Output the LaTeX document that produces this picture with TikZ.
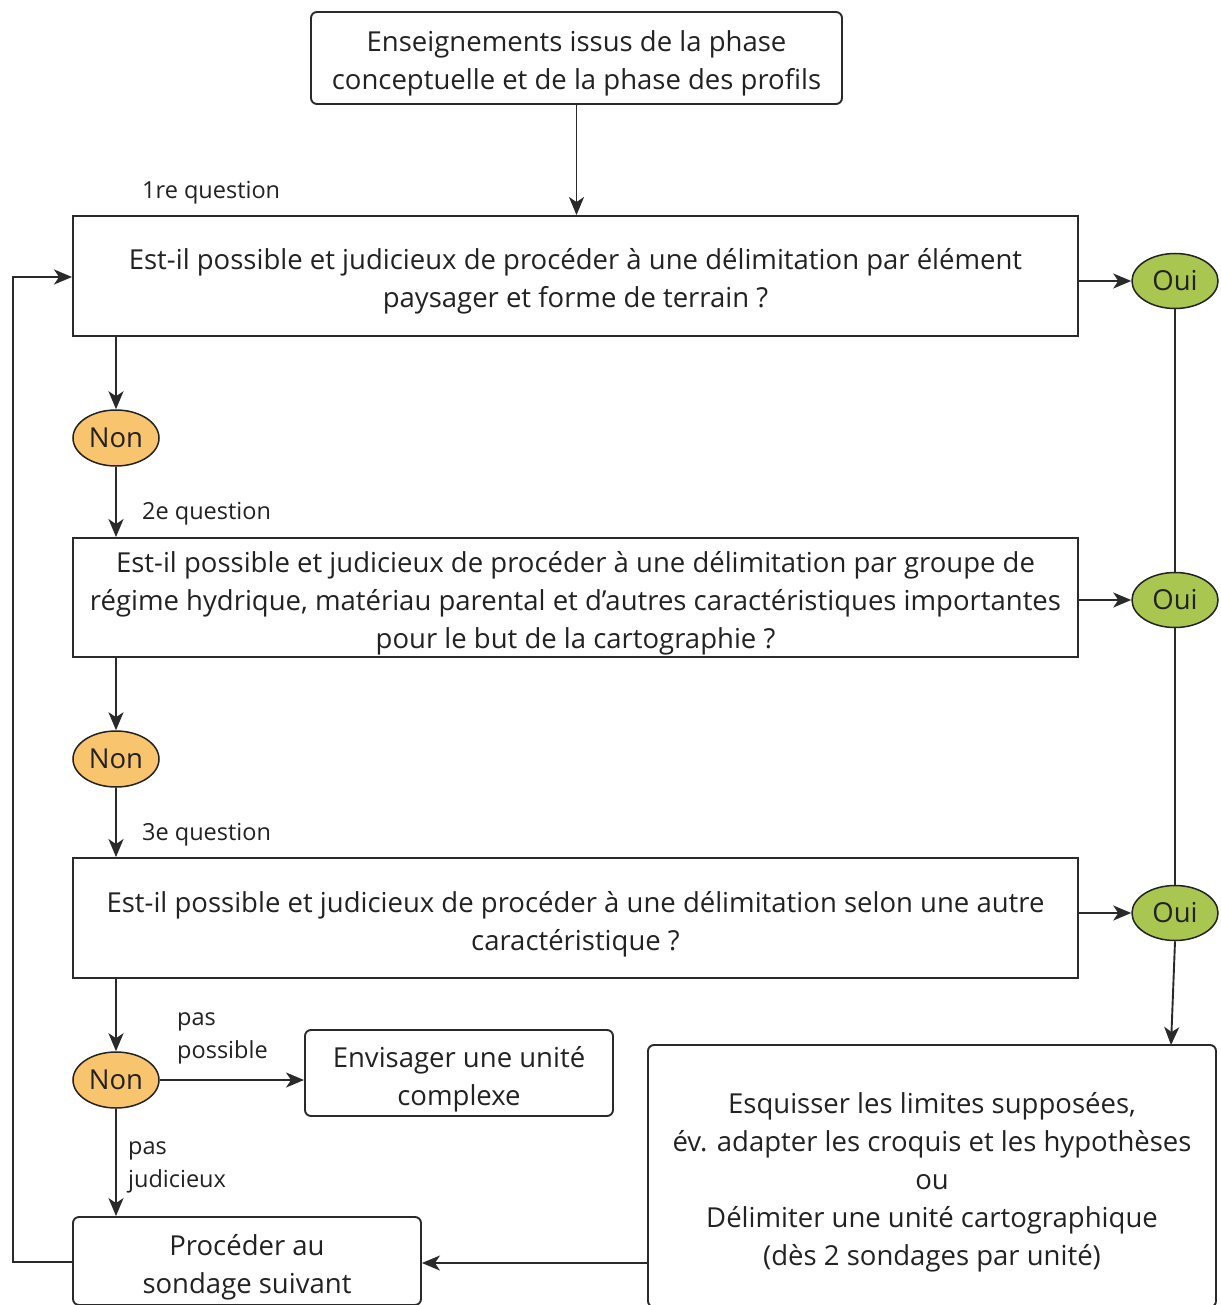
\documentclass[tikz,border=0pt]{standalone}
\usepackage{fontspec}
\setmainfont{Open Sans}
\usetikzlibrary{arrows.meta,shapes.geometric}
\definecolor{ink}{HTML}{222222}
\definecolor{edge}{HTML}{2A2A2A}
\definecolor{nonfill}{HTML}{F9C46E}
\definecolor{ouifill}{HTML}{A9C650}
% fixed first-line height and last-line depth, so that every box sets its lines alike
\newcommand\firstln{\rule{0pt}{34pt}}
\newcommand\lastln{\rule[-8pt]{0pt}{8pt}}
\begin{document}
\begin{tikzpicture}[x=1pt,y=-1pt,
  every node/.style={text=ink, font=\fontsize{27.5}{38}\selectfont},
  qbox/.style={draw=edge, line width=1.9pt, align=center, inner sep=0pt},
  rbox/.style={qbox, rounded corners=6pt},
  non/.style={ellipse, draw=edge!80!black, line width=1.5pt, fill=nonfill, minimum width=86pt, minimum height=56pt, inner sep=0pt},
  oui/.style={ellipse, draw=edge!80!black, line width=1.5pt, fill=ouifill, minimum width=86pt, minimum height=55pt, inner sep=0pt},
  lbl/.style={font=\fontsize{23.5}{33}\selectfont, align=left, inner sep=0pt},
  conn/.style={draw=edge, line width=1.9pt},
  arr/.style={conn, -{Stealth[length=18pt,width=15pt,inset=5pt]}}]
\useasboundingbox (0,0) rectangle (1220,1305);

% boxes
\node[rbox, minimum width=531pt, minimum height=92pt] (src) at (576.5,58) {\firstln Enseignements issus de la phase\\conceptuelle et de la phase des profils\lastln};
\node[qbox, minimum width=1005pt, minimum height=120pt] (q1) at (575.5,276) {\firstln Est-il possible et judicieux de procéder à une délimitation par élément\\paysager et forme de terrain ?\lastln};
\node[qbox, minimum width=1005pt, minimum height=119pt] (q2) at (575.5,597.5) {\firstln Est-il possible et judicieux de procéder à une délimitation par groupe de\\régime hydrique, matériau parental et d’autres caractéristiques importantes\\pour le but de la cartographie ?\lastln};
\node[qbox, minimum width=1005pt, minimum height=120pt] (q3) at (575.5,918) {\firstln Est-il possible et judicieux de procéder à une délimitation selon une autre\\caractéristique ?\lastln};
\node[rbox, minimum width=308pt, minimum height=86pt] (cx) at (459,1073) {\firstln Envisager une unité\\complexe\lastln};
\node[rbox, minimum width=348pt, minimum height=88pt] (next) at (247,1261) {\firstln Procéder au\\sondage suivant\lastln};
\node[rbox, minimum width=568pt, minimum height=262pt] (draft) at (932,1176) {\firstln Esquisser les limites supposées,\\év. adapter les croquis et les hypothèses\\ou\\Délimiter une unité cartographique\\(dès 2 sondages par unité)\lastln};

% answers
\node[non] (n1) at (116,438) {Non};
\node[non] (n2) at (116,759) {Non};
\node[non] (n3) at (116,1080) {Non};
\node[oui] (o1) at (1175,281) {Oui};
\node[oui] (o2) at (1175,600) {Oui};
\node[oui] (o3) at (1175,913) {Oui};

% question labels
\node[lbl, anchor=west] (l1) at (142,193) {1re question};
\node[lbl, anchor=west] (l2) at (142,514) {2e question};
\node[lbl, anchor=west] (l3) at (142,835) {3e question};
\node[lbl, anchor=west] (lp) at (177,1038) {pas\\possible};
\node[lbl, anchor=west] (lj) at (128,1167) {pas\\judicieux};

% connectors
\draw[arr] (src.south) -- (src.south |- q1.north);
\draw[arr] (n1.north |- q1.south) -- (n1.north);
\draw[arr] (n1.south) -- (n1.south |- q2.north);
\draw[arr] (n2.north |- q2.south) -- (n2.north);
\draw[arr] (n2.south) -- (n2.south |- q3.north);
\draw[arr] (n3.north |- q3.south) -- (n3.north);
\draw[arr] (n3.east) -- (cx.west |- n3.east);
\draw[arr] (n3.south) -- (n3.south |- next.north);

\draw[arr] (q1.east |- o1.west) -- (o1.west);
\draw[arr] (q2.east |- o2.west) -- (o2.west);
\draw[arr] (q3.east |- o3.west) -- (o3.west);
\draw[conn] (o1.south) -- (o2.north);
\draw[conn] (o2.south) -- (o3.north);
\coordinate (dtop) at (1171,1045);
\draw[arr] (o3.south) -- (dtop);

\coordinate (dleft) at (648,1263);
\draw[arr] (dleft) -- (next.east |- dleft);
\coordinate (loopb) at (13,1262);
\coordinate (loopt) at (13,277);
\draw[arr] (next.west |- loopb) -- (loopb) -- (loopt) -- (q1.west |- loopt);
\end{tikzpicture}
\end{document}
